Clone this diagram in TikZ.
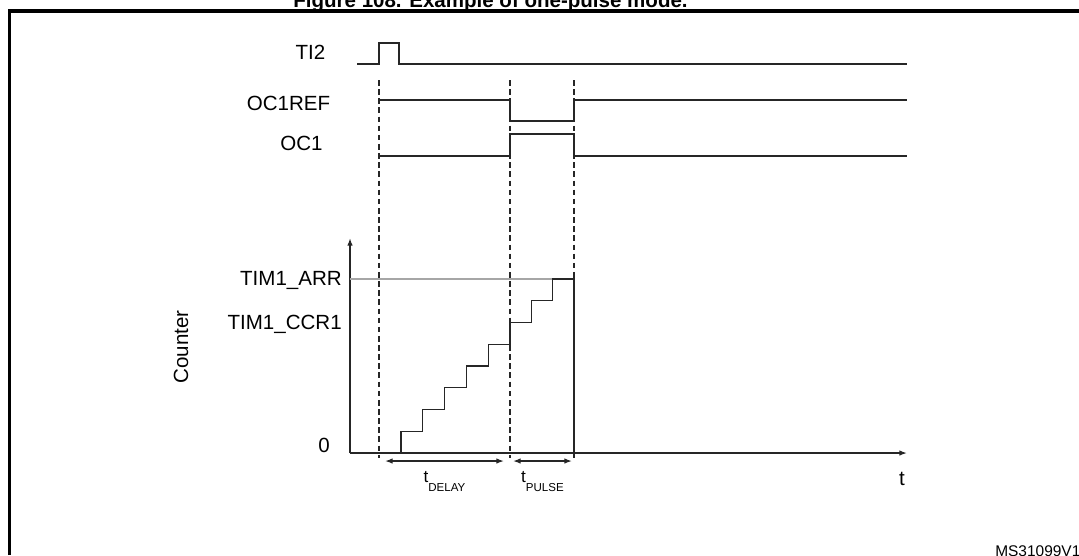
\documentclass[tikz,border=0pt]{standalone}
\usepackage{fontspec}
\setmainfont{Liberation Sans}
\colorlet{SignalLine}{black!85}
\colorlet{ArrLine}{black!35}
\usetikzlibrary{arrows.meta}

\tikzset{
  signal/.style={draw=SignalLine, line width=1pt},
  guide/.style={draw=SignalLine, line width=0.9pt, dash pattern=on 4pt off 2.5pt},
  sigtext/.style={font=\fontsize{14.6}{17}\selectfont, inner sep=0pt},
  subtext/.style={font=\fontsize{8.2}{9}\selectfont},
  dimtext/.style={font=\fontsize{12.2}{14}\selectfont, inner sep=0pt, anchor=base, yshift=-15.6pt},
}

\begin{document}
\begin{tikzpicture}[x=0.025cm, y=-0.025cm]

    \useasboundingbox (0,0) rectangle (1079,555);

    % Marco y titulo
    \draw [line width=2.2pt] (9.5,555) |- (1079,11);
    \node (title) [anchor=base, font=\bfseries\fontsize{14.6}{17}\selectfont] at (490.5,7) {Figure 108. Example of one-pulse mode.};

    % Instantes de referencia
    \coordinate (A) at (379,80);
    \coordinate (B) at (510,80);
    \coordinate (C) at (574,80);
    \coordinate (Abot) at (379,458);
    \coordinate (Bbot) at (510,458);
    \coordinate (Cbot) at (574,458);

    \draw [guide] (A) -- (Abot);
    \draw [guide] (B) -- (Bbot);
    \draw [guide] (C) -- (Cbot);

    % Senales
    \node (ti2) [sigtext, anchor=base] at (310.5,59) {TI2};
    \draw [signal] (357,64) -- (379,64) -- (379,43) -- (399,43) -- (399,64) -- (907,64);

    \node (ocref) [sigtext, anchor=base] at (288.5,110.5) {OC1REF};
    \draw [signal] (379,100) -- (510,100) -- (510,121) -- (574,121) -- (574,100) -- (907,100);

    \node (oc) [sigtext, anchor=base] at (301.5,150.5) {OC1};
    \draw [signal] (379,156) -- (510,156) -- (510,134) -- (574,134) -- (574,156) -- (907,156);

    % Ejes del contador
    \coordinate (O) at (350,453);
    \coordinate (Ytop) at (350,238);
    \coordinate (Xend) at (907,453);
    \draw [signal, -{Latex[length=5.5pt, width=4pt]}] (O) -- (Ytop);
    \draw [signal, -{Latex[length=5.5pt, width=4pt]}] (O) -- (Xend);

    \node (counter) [sigtext, rotate=90, anchor=base] at (188,347) {Counter};
    \node (arr) [sigtext, anchor=base east] at (342,285) {TIM1\_ARR};
    \node (ccr) [sigtext, anchor=base east] at (342,329.5) {TIM1\_CCR1};
    \node (zero) [sigtext, anchor=base east] at (330,452.5) {0};
    \node (taxis) [sigtext, anchor=base] at (902,485) {t};

    % Nivel ARR y escalera del contador
    \draw [draw=ArrLine, line width=0.8pt] (350,279) -- (552.7,279);
    \draw [signal] (379,453) -- (400.8,453) -- (400.8,431.25) -- (422.7,431.25)
      -- (422.7,409.5) -- (444.5,409.5) -- (444.5,387.75) -- (466.3,387.75)
      -- (466.3,366) -- (488.2,366) -- (488.2,344.25) -- (510,344.25)
      -- (510,322.5) -- (531.3,322.5) -- (531.3,300.75) -- (552.7,300.75)
      -- (552.7,279) -- (574,279) -- (Cbot);

    % Duraciones
    \coordinate (D1) at (385,461);
    \coordinate (D2) at (504,461);
    \coordinate (P1) at (513,461);
    \coordinate (P2) at (572,461);
    \draw [signal, {Latex[length=5.5pt, width=4pt]}-{Latex[length=5.5pt, width=4pt]}] (D1) -- node (tdelay) [dimtext] {t\raisebox{-6.4pt}{\fontsize{8.2}{9}\selectfont DELAY}} (D2);
    \draw [signal, {Latex[length=5.5pt, width=4pt]}-{Latex[length=5.5pt, width=4pt]}] (P1) -- node (tpulse) [dimtext] {t\raisebox{-6.4pt}{\fontsize{8.2}{9}\selectfont PULSE}} (P2);

    \node (ref) [anchor=base west, font=\fontsize{11}{13}\selectfont, inner sep=0pt] at (995,556) {MS31099V1};

\end{tikzpicture}
\end{document}
